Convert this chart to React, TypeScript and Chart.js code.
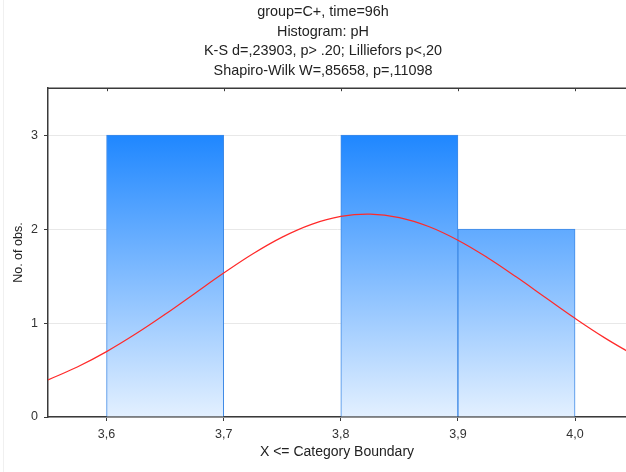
import React, { useEffect, useRef } from "react";
import { Chart, registerables } from "chart.js";

Chart.register(...registerables);

const titleLines = [
  "group=C+, time=96h",
  "Histogram: pH",
  "K-S d=,23903, p> .20; Lilliefors p<,20",
  "Shapiro-Wilk W=,85658, p=,11098",
];
const binCenters = [3.65, 3.75, 3.85, 3.95];
const binCounts = [3, 0, 3, 2];
const xTickValues = [3.6, 3.7, 3.8, 3.9, 4.0];
const yTickValues = [0, 1, 2, 3];
const curveX = [3.55, 3.575, 3.6, 3.625, 3.65, 3.675, 3.7, 3.725, 3.75, 3.775, 3.8, 3.825, 3.85, 3.875, 3.9, 3.925, 3.95, 3.975, 4.0, 4.025, 4.05];
const curveY = [0.395, 0.532, 0.696, 0.885, 1.093, 1.313, 1.532, 1.738, 1.915, 2.051, 2.135, 2.16, 2.123, 2.028, 1.882, 1.698, 1.489, 1.269, 1.05, 0.845, 0.661];

const FONT = "'Liberation Sans', Arial, sans-serif";

export default function App() {
  const ref = useRef<HTMLCanvasElement>(null);
  useEffect(() => {
    if (!ref.current) return;
    const frame = {
      id: "frame",
      beforeDraw(chart: any) {
        const { ctx, height } = chart;
        ctx.save();
        ctx.strokeStyle = "#f0f0f0";
        ctx.lineWidth = 1;
        ctx.beginPath();
        ctx.moveTo(3.5, 0);
        ctx.lineTo(3.5, height);
        ctx.stroke();
        ctx.restore();
      },
      afterDraw(chart: any) {
        const { ctx, chartArea, scales } = chart;
        ctx.save();
        ctx.strokeStyle = "#3a3a3a";
        ctx.lineWidth = 1.5;
        ctx.beginPath();
        ctx.moveTo(chartArea.left, chartArea.top);
        ctx.lineTo(chartArea.right, chartArea.top);
        ctx.stroke();
        ctx.lineWidth = 1;
        for (const v of xTickValues) {
          const px = Math.round(scales.x.getPixelForValue(v)) + 0.5;
          ctx.beginPath();
          ctx.moveTo(px, chartArea.top);
          ctx.lineTo(px, chartArea.top + 3);
          ctx.stroke();
        }
        ctx.restore();
      },
    };
    const chart = new Chart(ref.current, {
      type: "bar",
      data: {
        datasets: [
          {
            type: "line",
            data: curveX.map((x, i) => ({ x, y: curveY[i] })),
            borderColor: "#ff2a2a",
            borderWidth: 1.2,
            pointRadius: 0,
            tension: 0.4,
            fill: false,
            clip: 0,
            order: 1,
          } as any,
          {
            type: "bar",
            data: binCenters.map((x, i) => ({ x, y: binCounts[i] })),
            barPercentage: 1,
            categoryPercentage: 1,
            borderColor: "#3f8ae6",
            borderWidth: 1,
            borderSkipped: "bottom",
            order: 2,
            backgroundColor: (c: any) => {
              const ch = c.chart;
              if (!ch.chartArea) return "#3090ff";
              const y0 = ch.scales.y.getPixelForValue(3);
              const y1 = ch.scales.y.getPixelForValue(0);
              const g = ch.ctx.createLinearGradient(0, y0, 0, y1);
              g.addColorStop(0, "#1f87ff");
              g.addColorStop(1, "#e3f0ff");
              return g;
            },
          } as any,
        ],
      },
      options: {
        responsive: false,
        animation: false,
        layout: { padding: { left: 20, right: 0, top: 0, bottom: 0 } },
        plugins: {
          legend: { display: false },
          tooltip: { enabled: false },
          title: {
            display: true,
            text: titleLines,
            color: "#222",
            font: { family: FONT, size: 14.4, weight: "normal", lineHeight: 1.375 },
            padding: { top: 2, bottom: 7 },
          },
        },
        scales: {
          x: {
            type: "linear",
            min: 3.55,
            max: 4.0435,
            offset: false,
            afterFit: (s: any) => { s.height = 55; },
            afterBuildTicks: (s: any) => { s.ticks = xTickValues.map((v) => ({ value: v })); },
            ticks: {
              color: "#333",
              font: { family: FONT, size: 12.5 },
              padding: 6,
              maxRotation: 0,
              callback: (v: any) => Number(v).toFixed(1).replace(".", ","),
            },
            grid: { offset: false, drawOnChartArea: false, drawTicks: true, tickLength: 4, tickColor: "#3a3a3a" },
            border: { color: "#3a3a3a", width: 1.5 },
            title: {
              display: true,
              text: "X <= Category Boundary",
              color: "#222",
              font: { family: FONT, size: 14 },
              padding: { top: 4, bottom: 11.5 },
            },
          },
          y: {
            min: 0,
            max: 3.5,
            afterFit: (s: any) => { s.width = 28; },
            afterBuildTicks: (s: any) => { s.ticks = yTickValues.map((v) => ({ value: v })); },
            ticks: {
              color: "#333",
              font: { family: FONT, size: 12.5 },
              padding: 6,
            },
            grid: { color: "#e8e8e8", drawTicks: true, tickLength: 4, tickColor: "#3a3a3a" },
            border: { color: "#3a3a3a", width: 1.5 },
            title: {
              display: true,
              text: "No. of obs.",
              color: "#222",
              font: { family: FONT, size: 12.5 },
              padding: { top: -8.5, bottom: 4 },
            },
          },
        },
      },
      plugins: [frame],
    });
    return () => chart.destroy();
  }, []);
  return (
    <div style={{ position: "fixed", left: 0, top: 0, width: 626, height: 472, background: "#fff" }}>
      <canvas ref={ref} width={626} height={472} />
    </div>
  );
}
